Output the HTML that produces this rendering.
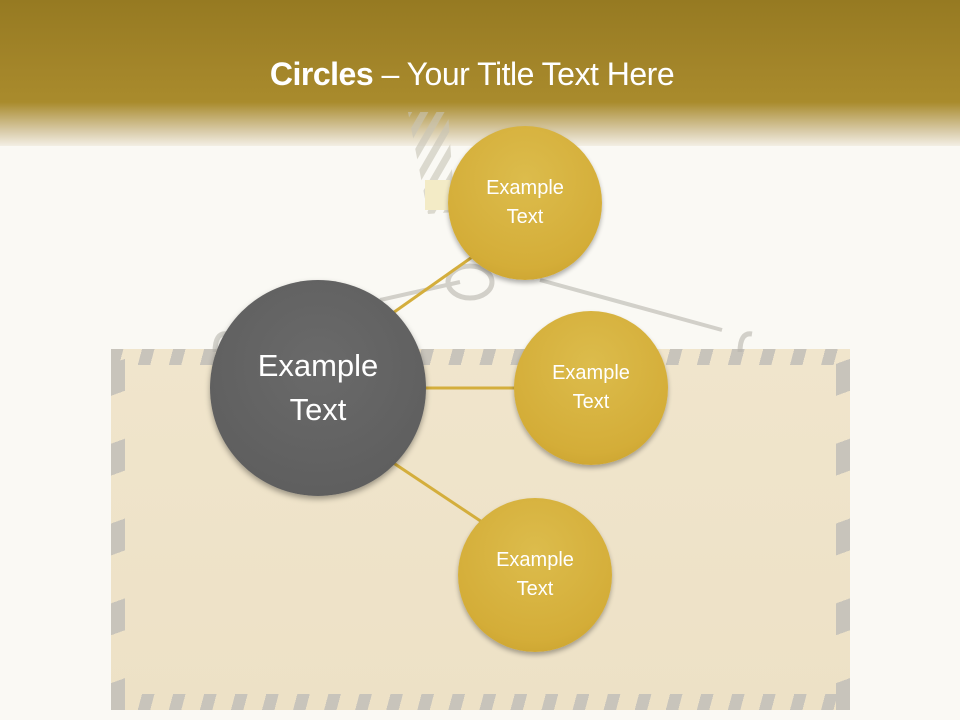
<!DOCTYPE html>
<html><head><meta charset="utf-8"><style>
html,body{margin:0;padding:0}
body{width:960px;height:720px;position:relative;overflow:hidden;background:#faf9f4;font-family:"Liberation Sans",sans-serif}
.hdr{position:absolute;left:0;top:0;width:960px;height:146px;background:linear-gradient(#967a22 0%,#a4862a 50%,#a98b2c 70%,#d9ccaa 90%,#f3efe4 100%)}
.title{position:absolute;left:0;width:944px;top:56px;text-align:center;color:#fff;font-size:32px;letter-spacing:-0.5px}
.box{position:absolute;left:111px;top:349px;width:739px;height:361px;background:linear-gradient(#f0e5cc,#ede1c6)}
.st{position:absolute;background:repeating-linear-gradient(105deg,#c8c4bb 0 12px,transparent 12px 30px)}
.sv{position:absolute;background:repeating-linear-gradient(-20deg,#c8c4bb 0 30px,transparent 30px 75px)}
.c{position:absolute;border-radius:50%;color:#fff;display:flex;align-items:center;justify-content:center;text-align:center}
.g{background:radial-gradient(circle at 50% 35%,#dcbc4c,#d4ad38 70%,#c49c2a);box-shadow:0 3px 5px rgba(0,0,0,.3);font-size:20px;line-height:29px}
.k{background:radial-gradient(circle at 50% 40%,#6a6a6a,#5e5e5e 80%,#555);box-shadow:0 3px 6px rgba(0,0,0,.35);font-size:31px;line-height:44px}
</style></head><body>
<div class="hdr"></div>
<div class="box">
 <div class="st" style="left:0;top:0;width:739px;height:16px"></div>
 <div class="st" style="left:0;bottom:0;width:739px;height:16px"></div>
 <div class="sv" style="left:0;top:0;width:14px;height:361px"></div>
 <div class="sv" style="right:0;top:0;width:14px;height:361px"></div>
</div>
<svg style="position:absolute;left:0;top:0" width="960" height="720">
 <defs><pattern id="p" width="14" height="14" patternUnits="userSpaceOnUse" patternTransform="rotate(30)"><rect width="7" height="14" fill="#c8c4b6"/></pattern></defs>
 <g opacity="0.6" fill="none" stroke="#b8b5ad">
  <path d="M408 112 L448 112 L455 212 L428 214 Z" fill="url(#p)" stroke="none"/>
  <rect x="425" y="180" width="25" height="30" fill="#efe2a8" stroke="none"/>
  <line x1="380" y1="300" x2="460" y2="282" stroke-width="4"/>
  <line x1="540" y1="280" x2="722" y2="330" stroke-width="4"/>
  <ellipse cx="470" cy="282" rx="22" ry="16" stroke-width="5"/>
  <path d="M740 352 q0 -20 12 -18" stroke-width="5"/>
  <path d="M215 352 q0 -20 12 -18" stroke-width="5"/>
 </g>
 <g stroke="#d4ae3c" stroke-width="3">
  <line x1="390" y1="315" x2="475" y2="255"/>
  <line x1="420" y1="388" x2="518" y2="388"/>
  <line x1="392" y1="462" x2="482" y2="522"/>
 </g>
</svg>
<div class="title"><b>Circles</b> – Your Title Text Here</div>
<div class="c g" style="left:448px;top:126px;width:154px;height:154px">Example<br>Text</div>
<div class="c k" style="left:210px;top:280px;width:216px;height:216px">Example<br>Text</div>
<div class="c g" style="left:514px;top:311px;width:154px;height:154px">Example<br>Text</div>
<div class="c g" style="left:458px;top:498px;width:154px;height:154px">Example<br>Text</div>
</body></html>
